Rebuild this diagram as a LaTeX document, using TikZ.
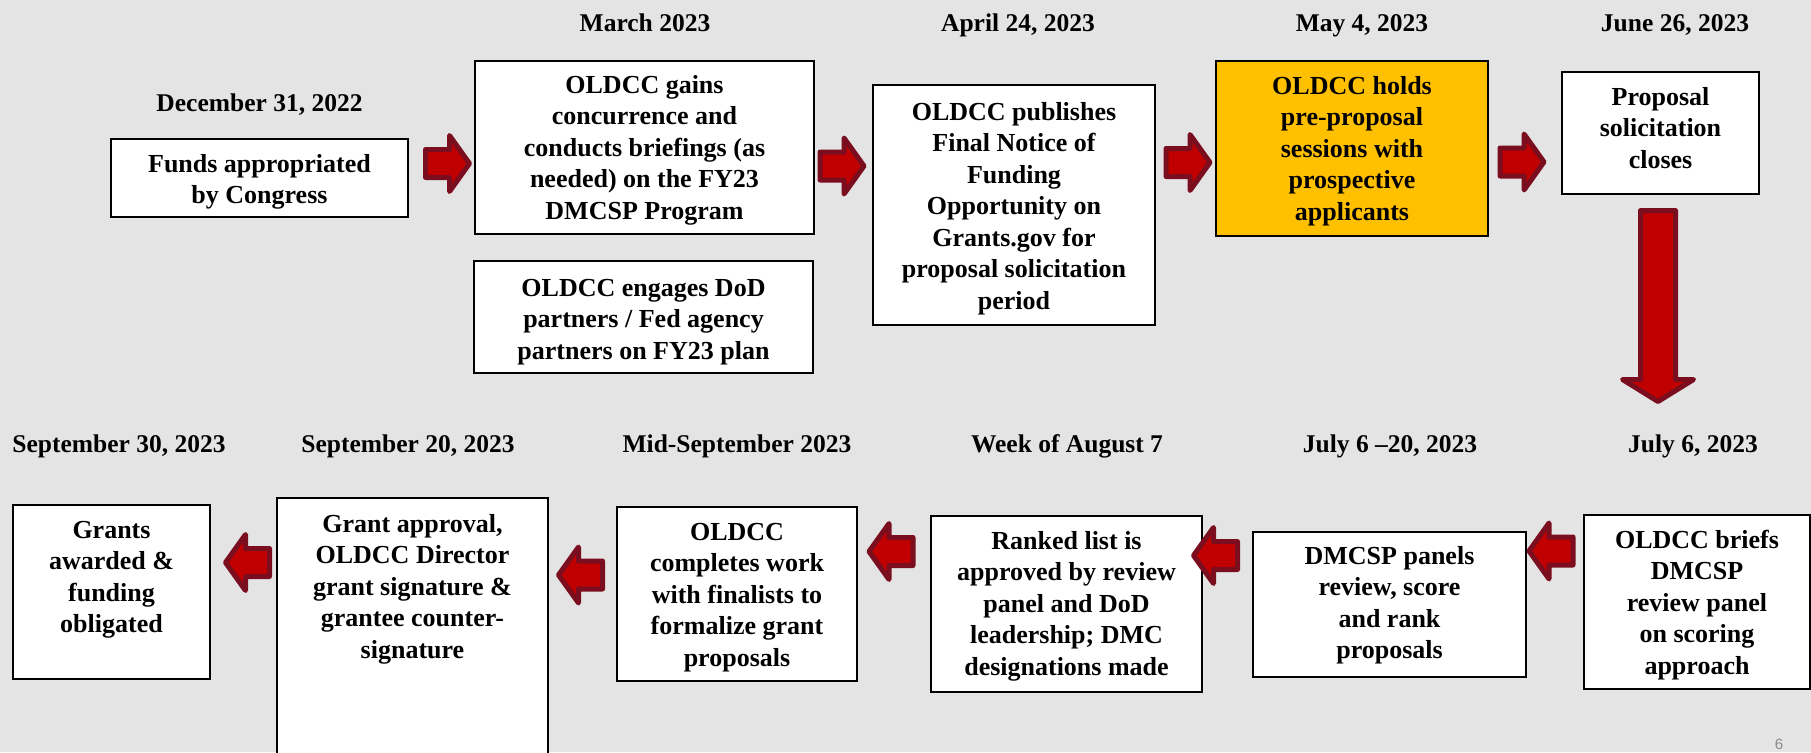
\documentclass[tikz,border=0pt]{standalone}
\usepackage{fontspec}
\setmainfont{Liberation Serif}
\newfontfamily\pagenumfont{Liberation Sans}
\definecolor{bg}{RGB}{228,228,228}
\definecolor{arrfill}{RGB}{192,0,0}
\definecolor{arrline}{RGB}{122,14,30}
\definecolor{hilite}{RGB}{255,192,0}
\newcommand\textlines[1]{\begin{tabular}{@{}c@{}}#1\end{tabular}}
\begin{document}
\begin{tikzpicture}[x=1pt,y=-1pt,
  box/.style={draw=black, line width=1.5pt, fill=white, inner sep=0pt},
  boxtext/.style={font=\fontsize{26}{31.5}\selectfont\bfseries, inner sep=0pt, anchor=north},
  datelabel/.style={font=\fontsize{25.5}{30}\selectfont\bfseries, inner sep=0pt, anchor=base},
  blockarr/.style={fill=arrfill, draw=arrline, line width=5pt, line join=round},
  blockarrow/.pic={\draw[blockarr] (-22,-14) -- (2,-14) -- (2,-28) -- (22,0) -- (2,28) -- (2,14) -- (-22,14) -- cycle;}
]
\fill[bg] (0,0) rectangle (1811,752);
\useasboundingbox (0,0) rectangle (1811,752);

% ---- dates, top row
\node[datelabel] (d1) at (259.5,111) {December 31, 2022};
\node[datelabel] (d2) at (645,32) {March 2023};
\node[datelabel] (d3) at (1018,32) {April 24, 2023};
\node[datelabel] (d4) at (1362,32) {May 4, 2023};
\node[datelabel] (d5) at (1675,32) {June 26, 2023};
% ---- dates, bottom row
\node[datelabel] (d12) at (119,452) {September 30, 2023};
\node[datelabel] (d11) at (408,452) {September 20, 2023};
\node[datelabel] (d10) at (737,452) {Mid-September 2023};
\node[datelabel] (d9) at (1067,452) {Week of August 7};
\node[datelabel] (d8) at (1390,452) {July 6 --20, 2023};
\node[datelabel] (d7) at (1693,452) {July 6, 2023};

% ---- boxes, top row
\node[box, minimum width=297pt, minimum height=78pt] (funds) at (259.5,178) {};
\node[boxtext] (fundsT) at (259.5,150) {\textlines{Funds appropriated\\by Congress}};

\node[box, minimum width=339pt, minimum height=173pt] (march) at (644.5,147.5) {};
\node[boxtext] (marchT) at (644.5,71) {\textlines{OLDCC gains\\concurrence and\\conducts briefings (as\\needed) on the FY23\\DMCSP Program}};

\node[box, minimum width=339pt, minimum height=112pt] (engage) at (643.5,317) {};
\node[boxtext] (engageT) at (643.5,274) {\textlines{OLDCC engages DoD\\partners / Fed agency\\partners on FY23 plan}};

\node[box, minimum width=282pt, minimum height=240pt] (april) at (1014,205) {};
\node[boxtext] (aprilT) at (1014,98) {\textlines{OLDCC publishes\\Final Notice of\\Funding\\Opportunity on\\Grants.gov for\\proposal solicitation\\period}};

\node[box, fill=hilite, minimum width=272pt, minimum height=175pt] (may) at (1352,148.5) {};
\node[boxtext] (mayT) at (1352,72) {\textlines{OLDCC holds\\pre-proposal\\sessions with\\prospective\\applicants}};

\node[box, minimum width=197pt, minimum height=122pt] (june) at (1660.5,133) {};
\node[boxtext] (juneT) at (1660.5,83) {\textlines{Proposal\\solicitation\\closes}};

% ---- boxes, bottom row
\node[box, minimum width=226pt, minimum height=174pt] (briefs) at (1697,602) {};
\node[boxtext] (briefsT) at (1697,526) {\textlines{OLDCC briefs\\DMCSP\\review panel\\on scoring\\approach}};

\node[box, minimum width=273pt, minimum height=145pt] (panels) at (1389.5,604.5) {};
\node[boxtext] (panelsT) at (1389.5,542) {\textlines{DMCSP panels\\review, score\\and rank\\proposals}};

\node[box, minimum width=271pt, minimum height=176pt] (ranked) at (1066.5,604) {};
\node[boxtext] (rankedT) at (1066.5,527) {\textlines{Ranked list is\\approved by review\\panel and DoD\\leadership; DMC\\designations made}};

\node[box, minimum width=240pt, minimum height=174pt] (midsept) at (737,594) {};
\node[boxtext] (midseptT) at (737,518) {\textlines{OLDCC\\completes work\\with finalists to\\formalize grant\\proposals}};

\node[box, minimum width=271pt, minimum height=264pt] (approval) at (412.5,630) {};
\node[boxtext] (approvalT) at (412.5,510) {\textlines{Grant approval,\\OLDCC Director\\grant signature \&\\grantee counter-\\signature}};

\node[box, minimum width=197pt, minimum height=174pt] (grants) at (111.5,592) {};
\node[boxtext] (grantsT) at (111.5,516) {\textlines{Grants\\awarded \&\\funding\\obligated}};

% ---- block arrows, top row (pointing right)
\pic at (447.5,163.5) {blockarrow};
\pic at (842,166) {blockarrow};
\pic at (1188,162.5) {blockarrow};
\pic at (1522,162) {blockarrow};

% ---- down arrow
\draw[blockarr] (1640.5,210.5) -- (1675.5,210.5) -- (1675.5,379.5) -- (1693.5,379.5)
  -- (1658,401.5) -- (1622.5,379.5) -- (1640.5,379.5) -- cycle;

% ---- block arrows, bottom row (pointing left)
\pic[rotate=180] at (1551,551) {blockarrow};
\pic[rotate=180] at (1215.5,555.5) {blockarrow};
\pic[rotate=180] at (891,551.5) {blockarrow};
\pic[rotate=180] at (580.5,575) {blockarrow};
\pic[rotate=180] at (247.5,562.5) {blockarrow};

% ---- page number
\node[font=\pagenumfont\fontsize{15}{18}\selectfont, text={rgb,255:red,140;green,140;blue,140}, anchor=base, inner sep=0pt] (pagenum) at (1779,749) {6};
\end{tikzpicture}
\end{document}
